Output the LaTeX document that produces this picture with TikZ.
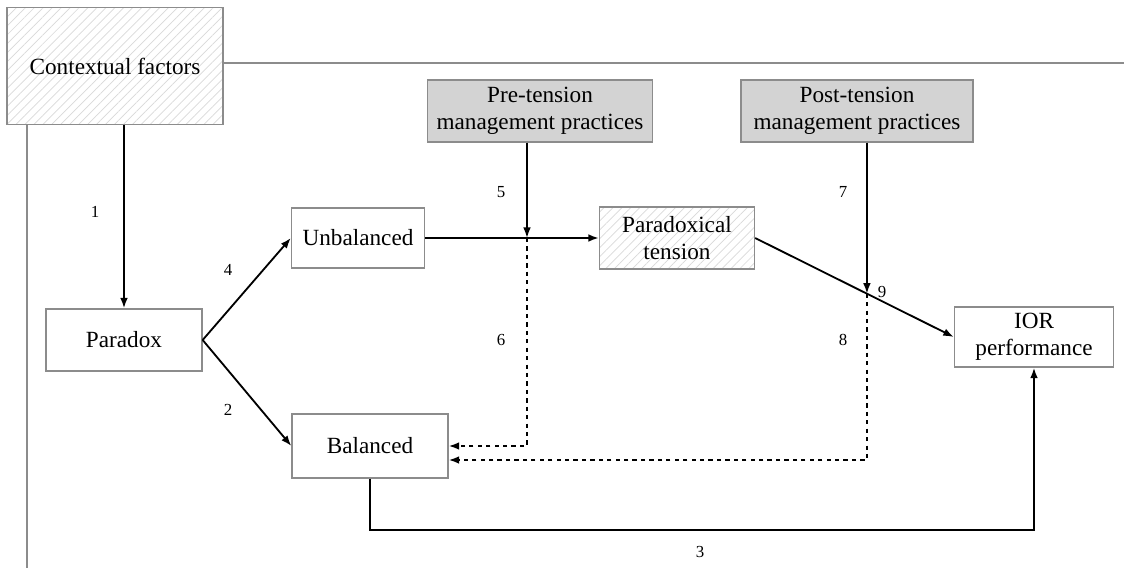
\documentclass[tikz,border=0pt]{standalone}
\usepackage{fontspec}
\setmainfont{Liberation Serif}
\usetikzlibrary{calc,patterns.meta,arrows.meta}
\definecolor{boxgray}{RGB}{211,211,211}
\definecolor{edgegray}{RGB}{140,140,140}

\begin{document}
\begin{tikzpicture}[x=0.025cm,y=-0.025cm,
    box/.style={draw=edgegray,line width=0.9pt,fill=white,inner sep=0pt,align=center,font=\fontsize{16.5}{19.5}\selectfont},
    hatch/.style={box,preaction={fill=white},pattern={Lines[angle=45,distance=4.5pt,line width=0.5pt]},pattern color=gray!30},
    shade/.style={box,fill=boxgray},
    arr/.style={-{Latex[length=7.5pt,width=5.5pt]},line width=1.3pt},
    dashlink/.style={arr,dashed},
    num/.style={font=\fontsize{12}{13}\selectfont}]
      \useasboundingbox (0,0) rectangle (1124,570);
      % boxes
      \node[hatch,minimum width=5.4cm,minimum height=2.925cm] (ctx) at (115,66) {Contextual factors};
      \node[box,minimum width=3.9cm,minimum height=1.55cm] (pdx) at (124,340) {Paradox};
      \node[box,minimum width=3.325cm,minimum height=1.5cm] (unb) at (358,238) {Unbalanced};
      \node[box,minimum width=3.9cm,minimum height=1.6cm] (bal) at (370,446) {Balanced};
      \node[hatch,minimum width=3.875cm,minimum height=1.55cm] (tens) at (677,238) {Paradoxical\\tension};
      \node[shade,minimum width=5.625cm,minimum height=1.55cm] (pre) at (540,111) {Pre-tension\\management practices};
      \node[shade,minimum width=5.8cm,minimum height=1.55cm] (post) at (857,111) {Post-tension\\management practices};
      \node[box,minimum width=3.975cm,minimum height=1.5cm] (ior) at (1034,337) {IOR\\performance};
      % frame
      \coordinate (fr) at (1124,63);
      \coordinate (fb) at (27,568);
      \draw[edgegray,line width=0.9pt] (ctx.east |- fr) -- (fr);
      \draw[edgegray,line width=0.9pt] (ctx.south -| fb) -- (fb);
      % links
      \draw[arr] (ctx.south -| pdx.north) -- (pdx.north);
      \draw[arr] (pdx.east) -- (unb.west);
      \draw[arr] (pdx.east) -- (bal.west);
      \draw[arr] (unb.east) -- (tens.west);
      \coordinate (j1) at (pre.south |- unb.east);
      \coordinate (j1) at ([xshift=-0.325cm]j1);
      \draw[arr] (j1 |- pre.south) -- (j1);
      \draw[dashlink] (j1) |- (bal.east);
      \draw[arr] (tens.east) -- (ior.west);
      \coordinate (j2) at ($(tens.east)!0.5625!(ior.west)$);
      \coordinate (b2) at ([yshift=-0.35cm]bal.east);
      \draw[arr] (j2 |- post.south) -- (j2);
      \draw[dashlink] (j2) |- (b2);
      \coordinate (c3) at (0,530);
      \draw[arr] (bal.south) -- (bal.south |- c3) -| (ior.south);
      % numbers
      \node[num] (n1) at (95,212) {1};
      \node[num] (n2) at (228,410) {2};
      \node[num] (n3) at (700,552) {3};
      \node[num] (n4) at (228,270) {4};
      \node[num] (n5) at (501,192) {5};
      \node[num] (n6) at (501,340) {6};
      \node[num] (n7) at (843,192) {7};
      \node[num] (n8) at (843,340) {8};
      \node[num] (n9) at (882,292) {9};
    \end{tikzpicture}
\end{document}
